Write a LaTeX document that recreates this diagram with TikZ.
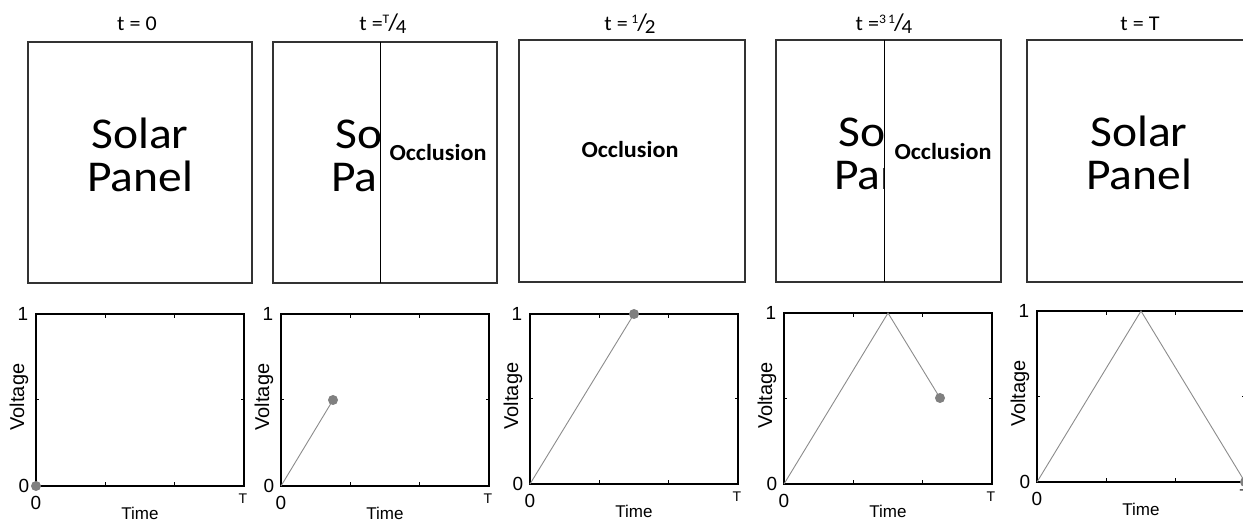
\documentclass[tikz,border=0pt]{standalone}
\usepackage{fontspec}
\setmainfont{Carlito}
\newfontfamily\plotfont{Liberation Sans}
\newcommand\fsz[1]{\fontsize{#1}{#1}\selectfont}
\newcommand\vfrac[2]{{\fsz{13}\raisebox{7pt}{#1}}\kern-1pt{\fsz{24}/}\kern-2pt{\fsz{20}\raisebox{-3pt}{#2}}}
\newcommand\voltplot[4]{%
  \coordinate (#1-ll) at (#2,#4);
  \coordinate (#1-ur) at (#2+208,#3);
  \draw[axesbox] (#1-ll) rectangle (#1-ur);
  \foreach \f in {1,2} {
    \draw[tickmark] (#2+69.33*\f,#4) -- ++(0,-4);
    \draw[tickmark] (#2+69.33*\f,#3) -- ++(0,4);
  }
  \draw[tickmark] (#2,{(#3+#4)/2}) -- ++(3,0);
  \draw[tickmark] (#2+208,{(#3+#4)/2}) -- ++(-3,0);
  \node[ticklabel] (#1-y1) at (#2-13,#3) {1};
  \node[ticklabel] (#1-y0) at (#2-12,#4) {0};
  \node[ticklabel] (#1-x0) at (#2,#4+17) {0};
  \node[tlabel] (#1-xT) at (#2+207,#4+13) {T};
  \node[axislabel, anchor=base] (#1-xl) at (#2+104,#4+33) {Time};
  \node[axislabel, font=\plotfont\fsz{20}, rotate=90] (#1-yl) at (#2-17,{(#3+#4)/2-3}) {Voltage};
}
\begin{document}
\begin{tikzpicture}[x=1pt,y=-1pt,
  panelbox/.style={draw=black!80, line width=1.8pt},
  divider/.style={draw=black, line width=1pt},
  solartext/.style={font=\fsz{44}, anchor=base, inner sep=0pt, xscale=1.08},
  occtext/.style={font=\bfseries\fsz{23}, anchor=base, inner sep=0pt, xscale=1.05},
  titletext/.style={font=\fsz{21}, anchor=base, inner sep=0pt, xscale=1.05},
  axesbox/.style={draw=black, line width=1.4pt},
  tickmark/.style={draw=black, line width=1pt},
  curve/.style={draw=black!45, line width=0.9pt},
  dotmark/.style={circle, fill=black!50, minimum size=10pt, inner sep=0pt},
  ticklabel/.style={font=\plotfont\fsz{19}, inner sep=0pt},
  tlabel/.style={font=\plotfont\fsz{14}, inner sep=0pt},
  axislabel/.style={font=\plotfont\fsz{17}, inner sep=0pt}]
\clip (0,0) rectangle (1243,521);
\fill[white] (0,0) rectangle (1243,521);

% titles
\node[titletext] (t0) at (137,31) {t = 0};
\node[titletext] (t1) at (383,31) {t =\vfrac{T}{4}};
\node[titletext] (t2) at (630,31) {t =\,\vfrac{1}{2}};
\node[titletext] (t3) at (884,31) {t =\vfrac{3\,1}{4}};
\node[titletext] (t4) at (1140,31) {t = T};

% panel 1
\node[solartext] (s1a) at (140,149) {Solar};
\node[solartext] (s1b) at (140,192) {Panel};
\draw[panelbox] (28,42) rectangle (252,283);

% panel 2
\node[solartext] (s2a) at (384,149) {Solar};
\node[solartext] (s2b) at (384,192) {Panel};
\fill[white] (380,42) rectangle (497,283);
\draw[panelbox] (273,42) rectangle (497,283);
\draw[divider] (380,42) -- (380,283);
\node[occtext] (o2) at (438,161) {Occlusion};

% panel 3
\draw[panelbox] (519,40) rectangle (745,282);
\node[occtext] (o3) at (630,158) {Occlusion};

% panel 4
\node[solartext] (s4a) at (887,147) {Solar};
\node[solartext] (s4b) at (887,190) {Panel};
\fill[white] (884,40) rectangle (1001,282);
\draw[panelbox] (776,40) rectangle (1001,282);
\draw[divider] (884,40) -- (884,282);
\node[occtext] (o4) at (943,160) {Occlusion};

% panel 5
\node[solartext] (s5a) at (1139,147) {Solar};
\node[solartext] (s5b) at (1139,190) {Panel};
\draw[panelbox] (1027,40) rectangle (1252,282);

% plots
\voltplot{p1}{36}{314}{486}
\voltplot{p2}{281}{314}{486}
\voltplot{p3}{530}{314}{484}
\voltplot{p4}{784}{313}{484}
\voltplot{p5}{1037}{311}{482}

% curves
\node[dotmark] (d1) at (36,486) {};

\coordinate (c2o) at (281,486);
\coordinate (c2e) at (333,400);
\draw[curve] (c2o) -- (c2e);
\node[dotmark] (d2) at (c2e) {};

\coordinate (c3o) at (530,484);
\coordinate (c3e) at (634,314);
\draw[curve] (c3o) -- (c3e);
\node[dotmark] (d3) at (c3e) {};

\coordinate (c4o) at (784,484);
\coordinate (c4p) at (888,313);
\coordinate (c4e) at (940,398);
\draw[curve] (c4o) -- (c4p) -- (c4e);
\node[dotmark] (d4) at (c4e) {};

\coordinate (c5o) at (1037,482);
\coordinate (c5p) at (1141,311);
\coordinate (c5e) at (1245,482);
\draw[curve] (c5o) -- (c5p) -- (c5e);
\node[dotmark] (d5) at (c5e) {};
\end{tikzpicture}
\end{document}
